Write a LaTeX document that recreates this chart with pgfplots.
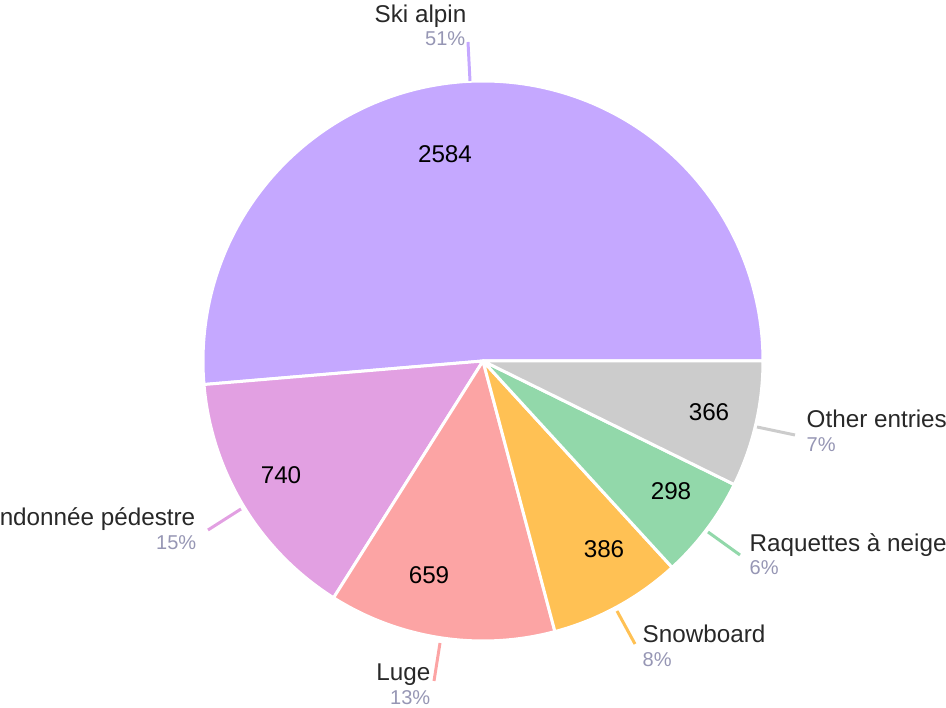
\documentclass[border=0pt]{standalone}
\usepackage{pgfplots}
\pgfplotsset{compat=1.18}
\usepackage{fontspec}
\setmainfont{Liberation Sans}
\definecolor{cA}{RGB}{197,168,255}
\definecolor{cB}{RGB}{226,160,226}
\definecolor{cC}{RGB}{252,164,164}
\definecolor{cD}{RGB}{255,193,84}
\definecolor{cE}{RGB}{146,216,170}
\definecolor{cF}{RGB}{204,204,204}
\definecolor{pct}{RGB}{150,150,180}
\definecolor{nm}{RGB}{40,40,40}
\def\vA{2584}\def\vB{740}\def\vC{659}\def\vD{386}\def\vE{298}\def\vF{366}
\pgfmathsetmacro\tot{\vA+\vB+\vC+\vD+\vE+\vF}
\pgfmathsetmacro\eA{360*(\vA/\tot)}
\pgfmathsetmacro\eB{\eA+360*(\vB/\tot)}
\pgfmathsetmacro\eC{\eB+360*(\vC/\tot)}
\pgfmathsetmacro\eD{\eC+360*(\vD/\tot)}
\pgfmathsetmacro\eE{\eD+360*(\vE/\tot)}
\def\cx{483}\def\cy{361}\def\R{280}
\tikzset{nmlab/.style={inner sep=0pt,text=nm,font=\fontsize{6.9}{8.2}\selectfont},
pclab/.style={inner sep=0pt,text=pct,font=\fontsize{5.7}{6.8}\selectfont},
vallab/.style={inner sep=0pt,text=black,font=\fontsize{6.9}{8.2}\selectfont}}
\begin{document}
\begin{tikzpicture}
\useasboundingbox (0,0) rectangle (9.46cm,7.08cm);
\clip (0,0) rectangle (9.46cm,7.08cm);
\begin{axis}[at={(0,0)},anchor=south west,scale only axis,width=9.46cm,height=7.08cm,
xmin=0,xmax=946,ymin=0,ymax=708,y dir=reverse,axis lines=none,clip=false]
\pgfplotsset{every axis plot/.append style={line join=round}}
\addplot[fill=cA,draw=white,line width=0.85pt,domain=0:\eA,samples=150] ({\cx+\R*cos(x)},{\cy-\R*sin(x)}) -- (axis cs:\cx,\cy) -- cycle;
\addplot[fill=cB,draw=white,line width=0.85pt,domain=\eA:\eB,samples=60] ({\cx+\R*cos(x)},{\cy-\R*sin(x)}) -- (axis cs:\cx,\cy) -- cycle;
\addplot[fill=cC,draw=white,line width=0.85pt,domain=\eB:\eC,samples=60] ({\cx+\R*cos(x)},{\cy-\R*sin(x)}) -- (axis cs:\cx,\cy) -- cycle;
\addplot[fill=cD,draw=white,line width=0.85pt,domain=\eC:\eD,samples=40] ({\cx+\R*cos(x)},{\cy-\R*sin(x)}) -- (axis cs:\cx,\cy) -- cycle;
\addplot[fill=cE,draw=white,line width=0.85pt,domain=\eD:\eE,samples=40] ({\cx+\R*cos(x)},{\cy-\R*sin(x)}) -- (axis cs:\cx,\cy) -- cycle;
\addplot[fill=cF,draw=white,line width=0.85pt,domain=\eE:360,samples=40] ({\cx+\R*cos(x)},{\cy-\R*sin(x)}) -- (axis cs:\cx,\cy) -- cycle;
% leader lines
\addplot[cA,line width=0.85pt] coordinates {(468,42) (470,81)};
\addplot[cB,line width=0.85pt] coordinates {(241,509) (208,530)};
\addplot[cC,line width=0.85pt] coordinates {(440,643) (434,681)};
\addplot[cD,line width=0.85pt] coordinates {(617,611) (635,644)};
\addplot[cE,line width=0.85pt] coordinates {(708,532) (740,555)};
\addplot[cF,line width=0.85pt] coordinates {(757,427) (795,435)};
% value labels
\node[vallab] at (axis cs:445,154) {2584};
\node[vallab] at (axis cs:281,475) {740};
\node[vallab] at (axis cs:429,575) {659};
\node[vallab] at (axis cs:604,549) {386};
\node[vallab] at (axis cs:671,491) {298};
\node[vallab] at (axis cs:709,412) {366};
% names and percentages
\node[nmlab,anchor=base east] at (axis cs:467,23) {Ski alpin};
\node[pclab,anchor=base east] at (axis cs:466,46) {51\%};
\node[nmlab,anchor=base west] at (axis cs:806,428) {Other entries};
\node[pclab,anchor=base west] at (axis cs:806,452) {7\%};
\node[nmlab,anchor=base west] at (axis cs:749,552) {Raquettes à neige};
\node[pclab,anchor=base west] at (axis cs:749,575) {6\%};
\node[nmlab,anchor=base west] at (axis cs:642,643) {Snowboard};
\node[pclab,anchor=base west] at (axis cs:642,667) {8\%};
\node[nmlab,anchor=base east] at (axis cs:431,681) {Luge};
\node[pclab,anchor=base east] at (axis cs:431,705) {13\%};
\node[nmlab,anchor=base east] at (axis cs:196,526) {Randonnée pédestre};
\node[pclab,anchor=base east] at (axis cs:197,550) {15\%};
\end{axis}
\end{tikzpicture}
\end{document}
